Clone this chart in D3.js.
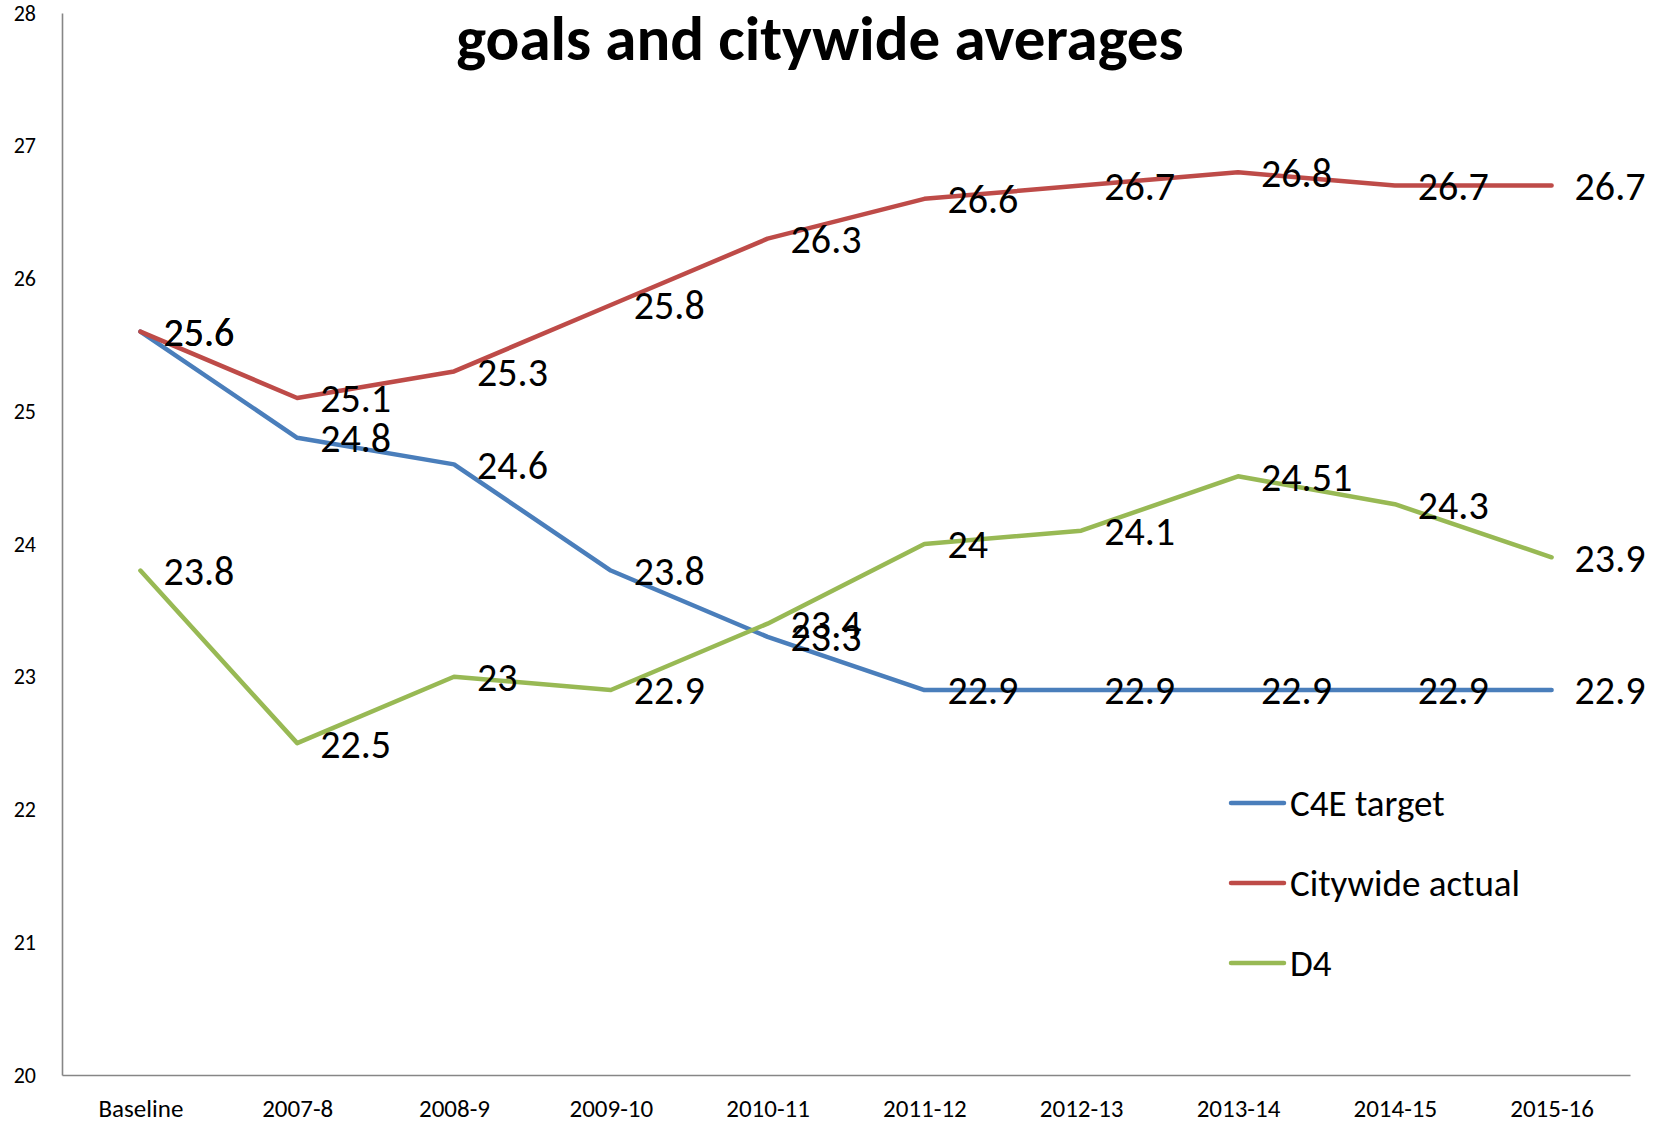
<!DOCTYPE html>
<html>
<head>
<meta charset="utf-8">
<script src="https://cdn.jsdelivr.net/npm/d3@7"></script>
<style>
  html, body { margin: 0; padding: 0; background: #fff; }
  svg { display: block; font-family: Carlito, Calibri, Lato, sans-serif; }
</style>
</head>
<body>
<svg id="chart" width="1665" height="1121"></svg>
<script>
// School years on the x axis
const categories = ["Baseline", "2007-8", "2008-9", "2009-10", "2010-11",
                    "2011-12", "2012-13", "2013-14", "2014-15", "2015-16"];

// Series values
const c4eTarget      = [25.6, 24.8, 24.6, 23.8, 23.3, 22.9, 22.9, 22.9, 22.9, 22.9];
const citywideActual = [25.6, 25.1, 25.3, 25.8, 26.3, 26.6, 26.7, 26.8, 26.7, 26.7];
const d4             = [23.8, 22.5, 23, 22.9, 23.4, 24, 24.1, 24.51, 24.3, 23.9];

// Y axis tick values
const yTicks = [20, 21, 22, 23, 24, 25, 26, 27, 28];

const seriesNames  = ["C4E target", "Citywide actual", "D4"];
const seriesColors = ["#4A7EBB", "#BE4B48", "#98B954"];
const series = [c4eTarget, citywideActual, d4].map((vals, i) => ({
  name: seriesNames[i],
  color: seriesColors[i],
  values: vals.map((v, j) => ({ cat: categories[j], v }))
}));

const svg = d3.select("#chart");
const plot = { left: 62, right: 1630, top: 13, bottom: 1075 };

const x = d3.scalePoint().domain(categories).range([plot.left, plot.right]).padding(0.5);
const y = d3.scaleLinear().domain([20, 28]).range([plot.bottom, plot.top]);

// Axes
const axisColor = "#868686";
const yAxis = svg.append("g")
  .attr("transform", `translate(${plot.left},0)`)
  .call(d3.axisLeft(y).tickValues(yTicks).tickFormat(d3.format("d")).tickSize(0).tickPadding(26));
const xAxis = svg.append("g")
  .attr("transform", `translate(0,${plot.bottom})`)
  .call(d3.axisBottom(x).tickSize(0).tickPadding(24));
[yAxis, xAxis].forEach(g => {
  g.select(".domain").attr("stroke", axisColor).attr("stroke-width", 1.6);
  g.selectAll("text").attr("fill", "#000")
    .style("font-family", "Carlito, Calibri, Lato, sans-serif");
});
yAxis.selectAll("text").style("font-size", "22px");
xAxis.selectAll("text").style("font-size", "25px");

// Title
svg.append("text")
  .attr("x", 820).attr("y", 60)
  .attr("text-anchor", "middle")
  .style("font-size", "63px").style("font-weight", "bold")
  .text("goals and citywide averages");

// Lines
const line = d3.line().x(d => x(d.cat)).y(d => y(d.v));
svg.append("g").selectAll("path")
  .data(series)
  .join("path")
  .attr("fill", "none")
  .attr("stroke", d => d.color)
  .attr("stroke-width", 4.5)
  .attr("stroke-linejoin", "round")
  .attr("stroke-linecap", "round")
  .attr("d", d => line(d.values));

// Data labels to the right of each point
svg.append("g").selectAll("g")
  .data(series)
  .join("g")
  .selectAll("text")
  .data(d => d.values)
  .join("text")
  .attr("x", d => x(d.cat) + 23)
  .attr("y", d => y(d.v))
  .attr("dy", "0.36em")
  .style("font-size", "40px")
  .attr("fill", "#000")
  .text(d => String(d.v));

// Legend
const legend = svg.append("g").selectAll("g")
  .data(series)
  .join("g")
  .attr("transform", (d, i) => `translate(1231,${803 + i * 80})`);
legend.append("line")
  .attr("x1", 0).attr("x2", 53)
  .attr("stroke", d => d.color)
  .attr("stroke-width", 4.5)
  .attr("stroke-linecap", "round");
legend.append("text")
  .attr("x", 59).attr("dy", "0.36em")
  .style("font-size", "37px")
  .text(d => d.name);
</script>
</body>
</html>
